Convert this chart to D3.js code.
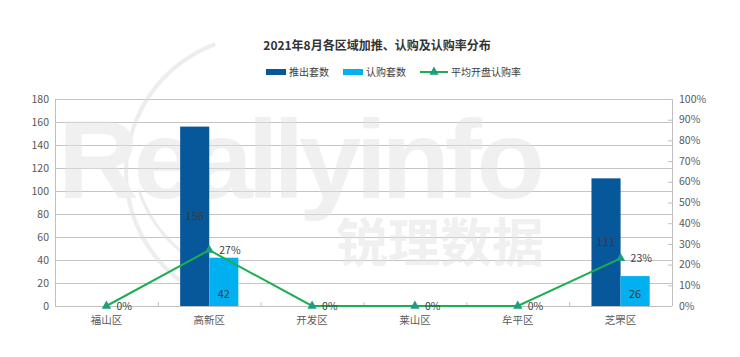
<!DOCTYPE html>
<html><head><meta charset="utf-8">
<script src="https://cdn.jsdelivr.net/npm/d3@7/dist/d3.min.js"></script>
<style>
html,body{margin:0;padding:0;background:#fff;}
svg{display:block;font-family:"Noto Sans CJK SC","Microsoft YaHei",sans-serif;}
</style></head>
<body><svg id="c" width="740" height="357"></svg>
<script>
const title = "2021年8月各区域加推、认购及认购率分布";
const categories = ["福山区","高新区","开发区","莱山区","牟平区","芝罘区"];
const launched = [0,156,0,0,0,111];
const subscribed = [0,42,0,0,0,26];
const rate = [0,0.27,0,0,0,0.23];
const leftTicks = [0,20,40,60,80,100,120,140,160,180];
const rightTicks = [0,0.1,0.2,0.3,0.4,0.5,0.6,0.7,0.8,0.9,1.0];
const seriesNames = ["推出套数","认购套数","平均开盘认购率"];

const C1 = "#07589B", C2 = "#00B0F0", CL = "#1BAF51", CM = "#1E9E80";
const svg = d3.select("#c");
const m = {l:55, r:672, t:99, b:306};

const x = d3.scaleBand().domain(categories).range([m.l, m.r]).padding(0);
const yL = d3.scaleLinear().domain([0,180]).range([m.b, m.t]);
const yR = d3.scaleLinear().domain([0,1]).range([m.b, m.t]);
const bw = x.bandwidth()*0.283;

// gridlines
svg.append("g").selectAll("line").data(leftTicks.slice(1)).join("line")
  .attr("x1", m.l).attr("x2", m.r).attr("y1", d=>yL(d)+0.5).attr("y2", d=>yL(d)+0.5)
  .attr("stroke","#c4c4c4").attr("stroke-width",1);

// watermark
const wm = svg.append("g").attr("opacity",0.5);
wm.append("path")
  .attr("d", d3.arc()({innerRadius:134, outerRadius:138, startAngle:-2.5, endAngle:-0.35}))
  .attr("transform","translate(262,172)").attr("fill","#dcdcdc");
wm.append("path")
  .attr("d", d3.arc()({innerRadius:128, outerRadius:131, startAngle:3.6, endAngle:4.4}))
  .attr("transform","translate(262,150)").attr("fill","#dcdcdc");
wm.append("text").attr("x",58).attr("y",198).attr("font-family","Arial, Liberation Sans, sans-serif")
  .attr("font-weight","bold").attr("font-size",112).attr("fill","#e2e2e2").attr("textLength",487)
  .text("Reallyinfo");
wm.append("text").attr("x",336).attr("y",262).attr("font-weight","bold")
  .attr("font-size",52).attr("fill","#e2e2e2").text("锐理数据");

// axes lines
svg.append("line").attr("x1",m.l+0.5).attr("x2",m.l+0.5).attr("y1",m.t).attr("y2",m.b).attr("stroke","#bfbfbf");
svg.append("line").attr("x1",m.r+0.5).attr("x2",m.r+0.5).attr("y1",m.t).attr("y2",m.b).attr("stroke","#bfbfbf");
svg.append("line").attr("x1",m.l).attr("x2",m.r).attr("y1",m.b+0.5).attr("y2",m.b+0.5).attr("stroke","#bfbfbf");

// left axis labels
svg.append("g").selectAll("text").data(leftTicks).join("text")
  .attr("x", m.l-6).attr("y", d=>yL(d)).attr("dy","0.35em").attr("text-anchor","end")
  .attr("font-size",10.5).attr("fill","#595959").text(d=>d);
// right axis ticks + labels
svg.append("g").selectAll("line").data(rightTicks).join("line")
  .attr("x1", m.r-4).attr("x2", m.r).attr("y1", d=>yR(d)+0.5).attr("y2", d=>yR(d)+0.5).attr("stroke","#bfbfbf");
svg.append("g").selectAll("text").data(rightTicks).join("text")
  .attr("x", m.r+7).attr("y", d=>yR(d)).attr("dy","0.35em").attr("text-anchor","start")
  .attr("font-size",10.5).attr("fill","#595959").text(d=>Math.round(d*100)+"%");
// bottom ticks at band boundaries
const bounds = categories.slice(1).map(c=>x(c));
svg.append("g").selectAll("line").data(bounds).join("line")
  .attr("x1", d=>d+0.5).attr("x2", d=>d+0.5).attr("y1", m.b-4).attr("y2", m.b).attr("stroke","#bfbfbf");
svg.append("g").selectAll("text").data(categories).join("text")
  .attr("x", d=>x(d)+x.bandwidth()/2).attr("y", 320).attr("dy","0.35em").attr("text-anchor","middle")
  .attr("font-size",10.5).attr("fill","#595959").text(d=>d);

// bars
const cx = c => x(c)+x.bandwidth()/2;
svg.append("g").selectAll("rect").data(categories).join("rect")
  .attr("x", c=>cx(c)-bw).attr("width", bw)
  .attr("y", (c,i)=>yL(launched[i])).attr("height", (c,i)=>m.b-yL(launched[i])).attr("fill",C1);
svg.append("g").selectAll("rect").data(categories).join("rect")
  .attr("x", c=>cx(c)).attr("width", bw)
  .attr("y", (c,i)=>yL(subscribed[i])).attr("height", (c,i)=>m.b-yL(subscribed[i])).attr("fill",C2);
// bar labels
svg.append("g").selectAll("text").data(categories.filter((c,i)=>launched[i]>0)).join("text")
  .attr("x", c=>cx(c)-bw/2).attr("y", c=>(yL(launched[categories.indexOf(c)])+m.b)/2).attr("dy","0.35em")
  .attr("text-anchor","middle").attr("font-size",11).attr("fill","#3a3a3a")
  .text(c=>launched[categories.indexOf(c)]);
svg.append("g").selectAll("text").data(categories.filter((c,i)=>subscribed[i]>0)).join("text")
  .attr("x", c=>cx(c)+bw/2).attr("y", m.b-12).attr("dy","0.35em")
  .attr("text-anchor","middle").attr("font-size",11).attr("fill","#3a3a3a")
  .text(c=>subscribed[categories.indexOf(c)]);

// line
const line = d3.line().x((d,i)=>cx(categories[i])).y(d=>yR(d));
svg.append("path").datum(rate).attr("d", line).attr("fill","none").attr("stroke",CL).attr("stroke-width",2);
const tri = d3.symbol().type(d3.symbolTriangle).size(38);
svg.append("g").selectAll("path").data(rate).join("path")
  .attr("d", tri).attr("transform",(d,i)=>`translate(${cx(categories[i])},${yR(d)})`).attr("fill",CM);
svg.append("g").selectAll("text").data(rate).join("text")
  .attr("x",(d,i)=>cx(categories[i])+10).attr("y", d=>yR(d)).attr("dy","0.35em")
  .attr("font-size",10.5).attr("fill","#404040").text(d=>Math.round(d*100)+"%");

// title
svg.append("text").attr("x",377).attr("y",46).attr("dy","0.35em").attr("text-anchor","middle")
  .attr("font-size",12).attr("font-weight","bold").attr("fill","#333").text(title);

// legend
const lg = svg.append("g").attr("font-size",10).attr("fill","#404040");
lg.append("rect").attr("x",266).attr("y",69).attr("width",20).attr("height",6).attr("fill",C1);
lg.append("text").attr("x",289).attr("y",72).attr("dy","0.35em").text(seriesNames[0]);
lg.append("rect").attr("x",343).attr("y",69).attr("width",20).attr("height",6).attr("fill",C2);
lg.append("text").attr("x",366).attr("y",72).attr("dy","0.35em").text(seriesNames[1]);
lg.append("line").attr("x1",420).attr("x2",448).attr("y1",72).attr("y2",72).attr("stroke",CL).attr("stroke-width",2);
lg.append("path").attr("d",tri).attr("transform","translate(434,72)").attr("fill",CM);
lg.append("text").attr("x",451).attr("y",72).attr("dy","0.35em").text(seriesNames[2]);
</script></body></html>
